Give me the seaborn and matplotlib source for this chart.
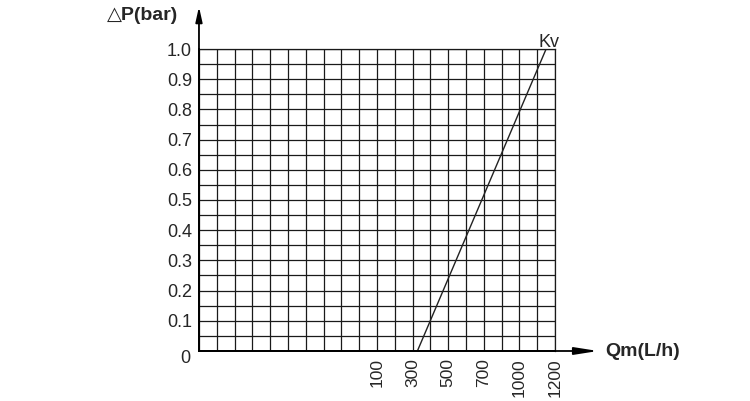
import matplotlib
matplotlib.use("Agg")
import matplotlib.pyplot as plt
import matplotlib.transforms as mtransforms
import seaborn as sns
import pandas as pd

# chart values
y_ticks = [0, 0.1, 0.2, 0.3, 0.4, 0.5, 0.6, 0.7, 0.8, 0.9, 1.0]
y_tick_labels = ["0", "0.1", "0.2", "0.3", "0.4", "0.5", "0.6", "0.7", "0.8", "0.9", "1.0"]
x_tick_pos = [10, 12, 14, 16, 18, 20]          # grid column of each label
x_tick_labels = ["100", "300", "500", "700", "1000", "1200"]
kv_pos = [12.27, 19.5]                          # Kv line, grid columns
kv_dp = [0.0, 1.0]                              # Kv line, bar

sns.set_style("white")
plt.rcParams["font.family"] = ["Liberation Sans", "DejaVu Sans"]

fig = plt.figure(figsize=(7.5, 4.01), dpi=100)
ax = fig.add_axes([0.2653, 0.1247, 0.4747, 0.7531])

df = pd.DataFrame({"qm": kv_pos, "dp": kv_dp})
sns.lineplot(data=df, x="qm", y="dp", ax=ax, color="#222222", linewidth=1.0)

ax.set_xlim(0, 20)
ax.set_ylim(0, 1)
ax.set_xticks(range(21), minor=True)
ax.set_yticks([i * 0.05 for i in range(21)], minor=True)
ax.set_xticks(x_tick_pos)
ax.set_xticklabels(x_tick_labels, rotation=90, fontsize=12.5)
ax.set_yticks(y_ticks)
ax.set_yticklabels(y_tick_labels, fontsize=13)
ax.tick_params(which="both", length=0)
ax.tick_params(axis="x", pad=5)
ax.tick_params(axis="y", pad=5)
ax.grid(which="both", color="#1a1a1a", linewidth=0.9)
ax.set_xlabel("")
ax.set_ylabel("")

# the "0" label sits a little lower and left in the reference
zero_lbl = ax.get_yticklabels()[0]
zero_lbl.set_transform(zero_lbl.get_transform() +
                       mtransforms.ScaledTranslation(-2 / 100, -6 / 100, fig.dpi_scale_trans))

for side in ["top", "right"]:
    ax.spines[side].set_color("#1a1a1a")
    ax.spines[side].set_linewidth(0.9)
for side in ["left", "bottom"]:
    ax.spines[side].set_color("black")
    ax.spines[side].set_linewidth(1.3)

# axis arrows
ax.annotate("", xy=(0, 1.14), xytext=(0, 0), xycoords="axes fraction",
            arrowprops=dict(arrowstyle="-|>,head_length=0.9,head_width=0.2",
                            color="black", lw=1.3, shrinkA=0, shrinkB=0),
            annotation_clip=False)
ax.annotate("", xy=(1.121, 0), xytext=(0, 0), xycoords="axes fraction",
            arrowprops=dict(arrowstyle="-|>,head_length=1.4,head_width=0.22",
                            color="black", lw=1.3, shrinkA=0, shrinkB=0),
            annotation_clip=False)

ax.text(19.65, 0.995, "Kv", fontsize=13, ha="center", va="bottom")
fig.text(143 / 750, 1 - 15 / 401, "△P(bar)", fontsize=14, fontweight="bold",
         ha="center", va="center")
fig.text(605 / 750, 1 - 352 / 401, "Qm(L/h)", fontsize=14, fontweight="bold",
         ha="left", va="center")

plt.savefig("out.png", dpi=100)
